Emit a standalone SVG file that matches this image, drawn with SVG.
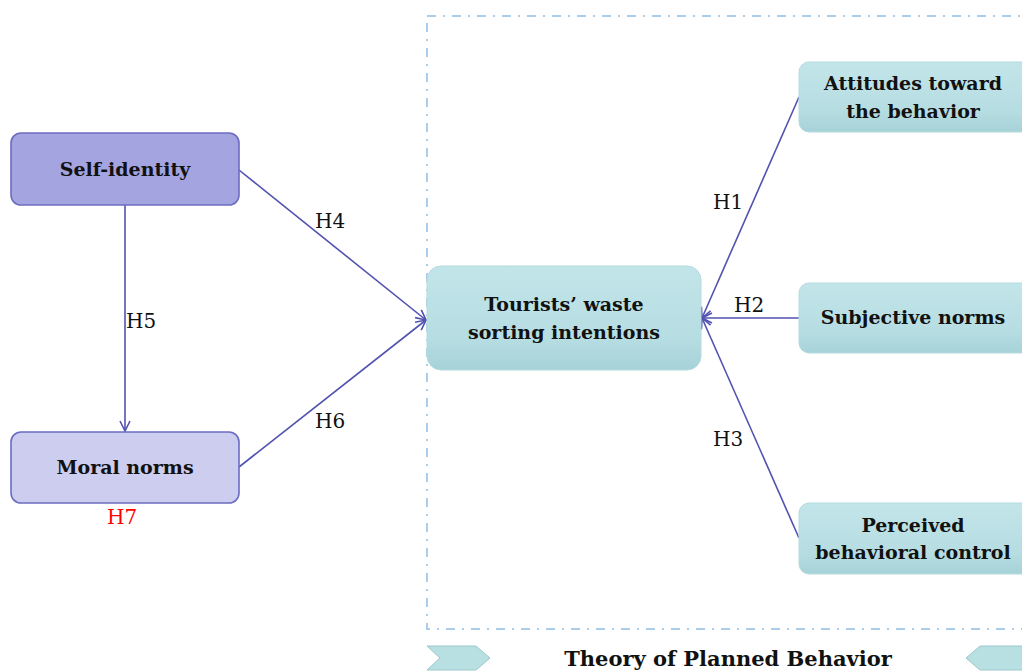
<svg xmlns="http://www.w3.org/2000/svg" width="1022" height="672" viewBox="0 0 1022 672">
<style>
.lbl{font-family:"DejaVu Serif","Liberation Serif",serif;font-size:20px;fill:#111}
.nt{font-family:"DejaVu Serif","Liberation Serif",serif;font-size:19px;font-weight:bold;fill:#111;text-anchor:middle}
.edge{stroke:#5252b0;stroke-width:1.6;fill:none}
.teal{fill:url(#tg);stroke:#b4dce0;stroke-width:1}
</style>
<defs>
<linearGradient id="tg" x1="0" y1="0" x2="0" y2="1">
<stop offset="0" stop-color="#c2e5e9"/>
<stop offset="0.7" stop-color="#b6dde2"/>
<stop offset="1" stop-color="#a6d2d8"/>
</linearGradient>
<marker id="arr" viewBox="0 0 12 12" refX="11" refY="6" markerWidth="12" markerHeight="12" markerUnits="userSpaceOnUse" orient="auto">
<path d="M1,1 L11,6 L1,11" fill="none" stroke="#5252b0" stroke-width="1.6"/>
</marker>
</defs>
<rect x="427" y="16" width="620" height="613" fill="none" stroke="#a9cdea" stroke-width="2" stroke-dasharray="9,7,2,7"/>
<g id="connectors">
<line class="edge" x1="239" y1="170" x2="426" y2="320" marker-end="url(#arr)"/>
<line class="edge" x1="239" y1="467" x2="426" y2="320" marker-end="url(#arr)"/>
<line class="edge" x1="125" y1="205" x2="125" y2="431" marker-end="url(#arr)"/>
<line class="edge" x1="799" y1="97" x2="702" y2="318" marker-end="url(#arr)"/>
<line class="edge" x1="799" y1="318" x2="702" y2="318" marker-end="url(#arr)"/>
<line class="edge" x1="799" y1="538" x2="702" y2="318" marker-end="url(#arr)"/>
<text class="lbl" x="315" y="228">H4</text>
<text class="lbl" x="126" y="328">H5</text>
<text class="lbl" x="315" y="428">H6</text>
<text class="lbl" x="713" y="209">H1</text>
<text class="lbl" x="734" y="312">H2</text>
<text class="lbl" x="713" y="446">H3</text>
</g>
<g id="self-identity">
<rect x="11" y="133" width="228" height="72" rx="10" fill="#a4a4e0" stroke="#6c6cc2" stroke-width="1.6"/>
<text class="nt" x="125" y="176">Self-identity</text>
</g>
<g id="moral-norms">
<rect x="11" y="432" width="228" height="71" rx="10" fill="#cdcdef" stroke="#6c6cc2" stroke-width="1.6"/>
<text class="nt" x="125" y="474">Moral norms</text>
<text class="lbl" x="107" y="524" style="fill:#ff0000">H7</text>
</g>
<g id="intentions">
<rect class="teal" x="427" y="266" width="274" height="104" rx="14"/>
<text class="nt" x="564" y="311">Tourists’ waste</text>
<text class="nt" x="564" y="339">sorting intentions</text>
</g>
<g id="attitudes">
<rect class="teal" x="799" y="62" width="240" height="70" rx="10"/>
<text class="nt" x="913" y="90">Attitudes toward</text>
<text class="nt" x="913" y="118">the behavior</text>
</g>
<g id="subjective-norms">
<rect class="teal" x="799" y="283" width="240" height="70" rx="10"/>
<text class="nt" x="913" y="324">Subjective norms</text>
</g>
<g id="perceived-control">
<rect class="teal" x="799" y="503" width="240" height="71" rx="10"/>
<text class="nt" x="913" y="532">Perceived</text>
<text class="nt" x="913" y="559">behavioral control</text>
</g>
<g id="tpb-label">
<polygon points="427,646 476,646 490,658 476,670 427,670 440,658" fill="#b8dfe2" stroke="#9cc8cc" stroke-width="1"/>
<polygon points="1030,646 980,646 966,658 980,670 1030,670" fill="#b8dfe2" stroke="#9cc8cc" stroke-width="1"/>
<text class="nt" x="728" y="666" style="font-size:21px">Theory of Planned Behavior</text>
</g>
</svg>
